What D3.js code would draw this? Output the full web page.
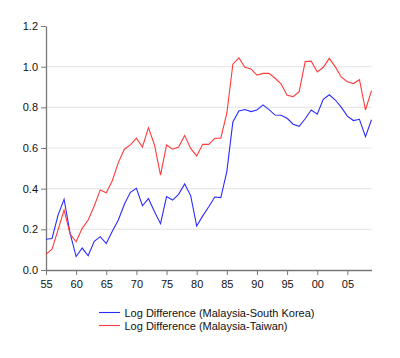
<!DOCTYPE html>
<html><head><meta charset="utf-8">
<script src="https://cdn.jsdelivr.net/npm/d3@7"></script>
<style>body{margin:0;background:#fff}svg{display:block}text{font-family:Arial,"Liberation Sans",sans-serif}</style>
</head><body>
<svg id="c" width="400" height="358"></svg>
<script>
const years = d3.range(1955, 2010);
const korea = [0.151,0.155,0.27,0.348,0.18,0.066,0.108,0.07,0.141,0.164,0.13,0.19,0.246,0.323,0.382,0.402,0.316,0.351,0.287,0.228,0.361,0.344,0.372,0.423,0.366,0.216,0.266,0.311,0.359,0.356,0.484,0.728,0.782,0.789,0.779,0.787,0.812,0.789,0.762,0.761,0.746,0.717,0.707,0.744,0.787,0.766,0.839,0.862,0.836,0.80,0.757,0.735,0.741,0.656,0.739];
const taiwan = [0.077,0.102,0.197,0.295,0.177,0.139,0.205,0.246,0.315,0.394,0.38,0.439,0.528,0.594,0.615,0.648,0.605,0.70,0.615,0.467,0.615,0.594,0.605,0.662,0.598,0.561,0.618,0.618,0.648,0.648,0.771,1.012,1.043,0.997,0.989,0.958,0.967,0.967,0.943,0.915,0.859,0.853,0.877,1.025,1.027,0.974,0.997,1.041,0.999,0.948,0.926,0.917,0.936,0.787,0.882];
const xTicks = [1955,1960,1965,1970,1975,1980,1985,1990,1995,2000,2005];
const yTicks = [0,0.2,0.4,0.6,0.8,1.0,1.2];
const seriesNames = ["Log Difference (Malaysia-South Korea)","Log Difference (Malaysia-Taiwan)"];
const colors = ["#2b2bff","#ff3b3b"];

const svg = d3.select("#c");
const x = d3.scaleLinear().domain([1955,2009]).range([46,371.5]);
const y = d3.scaleLinear().domain([0,1.2]).range([270,26]);

// gridlines
svg.append("g").selectAll("line").data(yTicks.filter(v=>v>0&&v<1.2)).join("line")
  .attr("x1",46).attr("x2",371.5).attr("y1",d=>y(d)).attr("y2",d=>y(d))
  .attr("stroke","#e8e8e8").attr("stroke-width",1.2);

const xa = svg.append("g").attr("transform","translate(0,270)")
  .call(d3.axisBottom(x).tickValues(xTicks).tickSize(5).tickSizeOuter(0)
    .tickFormat(d=>String(d%100).padStart(2,"0")));
const ya = svg.append("g").attr("transform","translate(46,0)")
  .call(d3.axisLeft(y).tickValues(yTicks).tickSize(5).tickSizeOuter(0).tickFormat(d3.format(".1f")));
[xa,ya].forEach(a=>{
  a.select(".domain").attr("stroke","#777").attr("stroke-width",1.3);
  a.selectAll(".tick line").attr("stroke","#777");
  a.selectAll("text").attr("fill","#111").style("font-size","11px");
});
xa.selectAll("text").attr("dy","0.9em");
ya.selectAll("text").attr("x",-8);

const line = d3.line().x((d,i)=>x(years[i])).y(d=>y(d));
[korea,taiwan].forEach((s,k)=>{
  svg.append("path").datum(s).attr("d",line).attr("fill","none")
    .attr("stroke",colors[k]).attr("stroke-width",1.1);
});

const lg = svg.append("g");
seriesNames.forEach((n,k)=>{
  const yy = 312.5 + k*13;
  lg.append("line").attr("x1",99).attr("x2",120).attr("y1",yy).attr("y2",yy)
    .attr("stroke",colors[k]).attr("stroke-width",1.1);
  lg.append("text").attr("x",124.5).attr("y",yy+4).style("font-size","11px").attr("fill","#111").text(n);
});
</script>
</body></html>
